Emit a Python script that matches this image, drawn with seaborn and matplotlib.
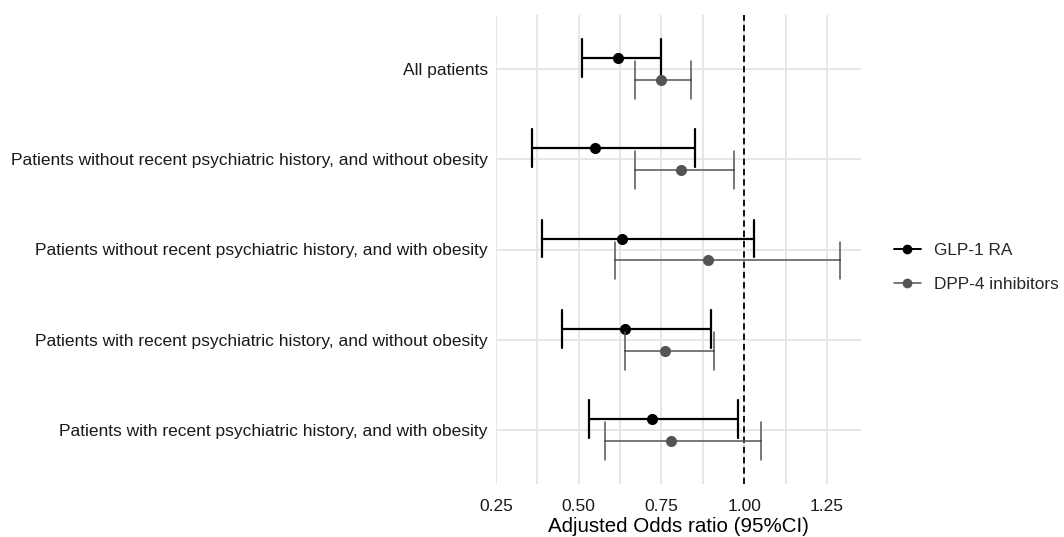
import numpy as np
import pandas as pd
import matplotlib
matplotlib.use("Agg")
import matplotlib.pyplot as plt
from matplotlib.lines import Line2D
import seaborn as sns

groups = [
    "All patients",
    "Patients without recent psychiatric history, and without obesity",
    "Patients without recent psychiatric history, and with obesity",
    "Patients with recent psychiatric history, and without obesity",
    "Patients with recent psychiatric history, and with obesity",
]
drugs = ["GLP-1 RA", "DPP-4 inhibitors"]

glp_or = [0.62, 0.55, 0.63, 0.64, 0.72]
glp_lo = [0.51, 0.36, 0.39, 0.45, 0.53]
glp_hi = [0.75, 0.85, 1.03, 0.90, 0.98]

dpp_or = [0.75, 0.81, 0.89, 0.76, 0.78]
dpp_lo = [0.67, 0.67, 0.61, 0.64, 0.58]
dpp_hi = [0.84, 0.97, 1.29, 0.91, 1.05]

x_ticks = [0.25, 0.50, 0.75, 1.00, 1.25]

rows = []
for drug, est, lo, hi in [("GLP-1 RA", glp_or, glp_lo, glp_hi),
                          ("DPP-4 inhibitors", dpp_or, dpp_lo, dpp_hi)]:
    for g, e, l, h in zip(groups, est, lo, hi):
        for v in (l, e, h):
            rows.append({"group": g, "drug": drug, "value": v})
df = pd.DataFrame(rows)

sns.set_theme(style="white")
plt.rcParams["font.family"] = ["Liberation Sans", "DejaVu Sans"]

colors = {"GLP-1 RA": "#000000", "DPP-4 inhibitors": "#545454"}

fig = plt.figure(figsize=(10.64, 5.37), dpi=100)
ax = fig.add_axes([496 / 1064, 53 / 537, 365 / 1064, 469 / 537])

sns.pointplot(
    data=df, x="value", y="group", hue="drug", order=groups, hue_order=drugs,
    estimator="median", errorbar=("pi", 100), dodge=0.243, linestyle="none",
    capsize=0.42, palette=colors, markers="o", markersize=8,
    markeredgewidth=0, err_kws={"linewidth": 1.6}, ax=ax, legend=False,
)

for ln in ax.lines:
    c = matplotlib.colors.to_hex(ln.get_color())
    if c.lower() == "#545454" and ln.get_marker() in (None, "None", "", " "):
        ln.set_linewidth(1.1)

ax.axvline(1.0, color="black", linestyle=(0, (3.5, 2.2)), linewidth=1.3, zorder=1)

ax.set_xlim(0.25, 1.353)
ax.set_ylim(4.6, -0.6)
ax.set_xticks(x_ticks)
ax.set_xticklabels([f"{t:.2f}" for t in x_ticks])
ax.set_xticks([0.375, 0.625, 0.875, 1.125], minor=True)
ax.grid(True, which="major", color="#e4e4e4", linewidth=1.3, zorder=0)
ax.grid(True, which="minor", axis="x", color="#e4e4e4", linewidth=1.3, zorder=0)
ax.set_axisbelow(True)
for s in ax.spines.values():
    s.set_visible(False)
ax.tick_params(axis="both", which="both", length=0, colors="#1a1a1a",
               labelsize=12.5)
ax.tick_params(axis="y", pad=6)
ax.tick_params(axis="x", pad=11)
ax.set_ylabel("")
ax.set_xlabel("Adjusted Odds ratio (95%CI)", fontsize=14.8, color="black",
              labelpad=2)

handles = [
    Line2D([0], [0], color=colors[d], marker="o", markersize=7,
           linewidth=1.4 if d == "GLP-1 RA" else 1.1, markeredgewidth=0)
    for d in drugs
]
fig.legend(handles, drugs, loc="center left", bbox_to_anchor=(894 / 1064, 1 - 267 / 537),
           frameon=False, fontsize=12.4, handlelength=1.55, handletextpad=0.75,
           labelspacing=1.1, borderaxespad=0, borderpad=0)

fig.savefig("out.png", dpi=100)
